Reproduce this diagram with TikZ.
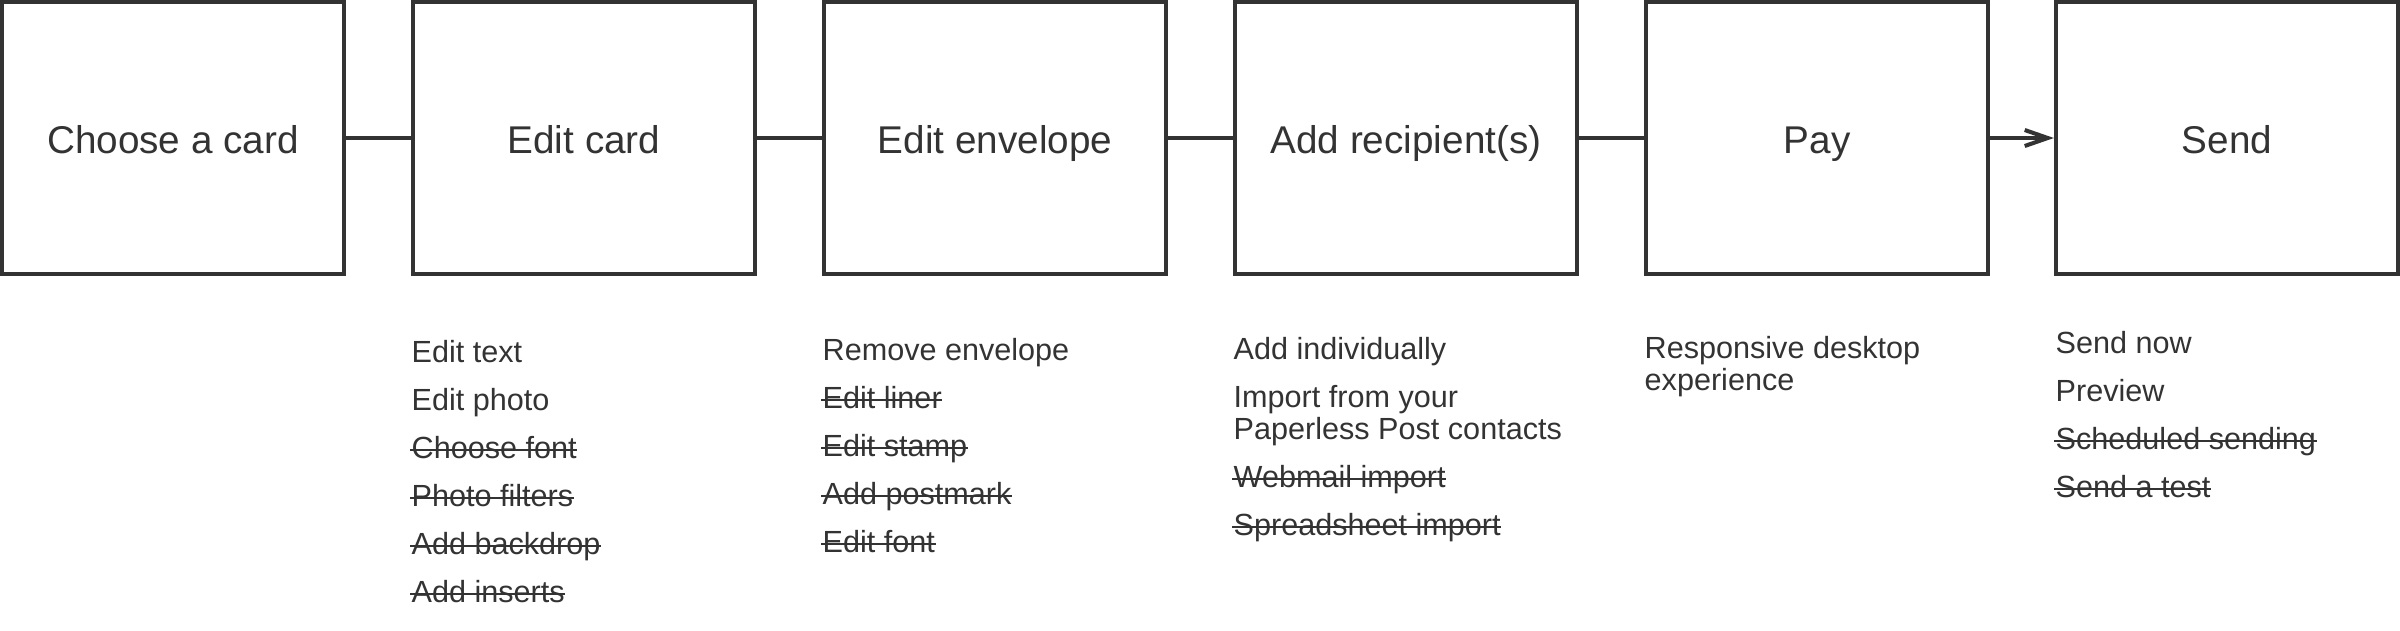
\documentclass[tikz,border=0pt]{standalone}
\usepackage{fontspec}
\setmainfont{Liberation Sans}
\usetikzlibrary{arrows.meta}
\definecolor{ink}{HTML}{333333}

\begin{document}
\begin{tikzpicture}[x=0.01cm,y=-0.01cm,
  stage/.style={draw=ink,line width=1.15pt,minimum width=3.42cm,minimum height=2.72cm,
    inner sep=0pt,text=ink,font=\fontsize{11pt}{13pt}\selectfont,text height=0.30cm,text depth=0cm},
  link/.style={draw=ink,line width=1.15pt},
  item/.style={anchor=base west,inner sep=0pt,text=ink,align=left,
    font=\fontsize{8.7pt}{9.1pt}\selectfont},
  strike/.style={draw=ink,line width=0.65pt},
  gone/.style={item,append after command={([xshift=-0.01cm,yshift=0.08cm]\tikzlastnode.base west)
    edge[strike] ([yshift=0.08cm]\tikzlastnode.base east)}}]

\useasboundingbox (0,0) rectangle (2400,630);

% steps
\node[stage] (choose) at (173,138) {Choose a card};
\node[stage] (edit) at (584,138) {Edit card};
\node[stage] (envelope) at (995,138) {Edit envelope};
\node[stage] (recipients) at (1406,138) {Add recipient(s)};
\node[stage] (pay) at (1817,138) {Pay};
\node[stage] (send) at (2227,138) {Send};

% connectors
\draw[link] (choose) -- (edit);
\draw[link] (edit) -- (envelope);
\draw[link] (envelope) -- (recipients);
\draw[link] (recipients) -- (pay);
\draw[link,-{Straight Barb[length=0.23cm,width=0.16cm]}] (pay) -- (send);

% edit card
\node[item] (edit1) at (411,362) {Edit text};
\node[item] (edit2) at (411,410) {Edit photo};
\node[gone] (edit3) at (411,458) {Choose font};
\node[gone] (edit4) at (411,506) {Photo filters};
\node[gone] (edit5) at (411,554) {Add backdrop};
\node[gone] (edit6) at (411,602) {Add inserts};

% edit envelope
\node[item] (env1) at (822,360) {Remove envelope};
\node[gone] (env2) at (822,408) {Edit liner};
\node[gone] (env3) at (822,456) {Edit stamp};
\node[gone] (env4) at (822,504) {Add postmark};
\node[gone] (env5) at (822,552) {Edit font};

% add recipients (base of a two-line item is its last line)
\node[item] (rec1) at (1233,359) {Add individually};
\node[item] (rec2) at (1233,439) {Import from your\\Paperless Post contacts};
\node[gone] (rec3) at (1233,487) {Webmail import};
\node[gone] (rec4) at (1233,535) {Spreadsheet import};

% pay
\node[item] (pay1) at (1644,390) {Responsive desktop\\experience};

% send
\node[item] (send1) at (2055,353) {Send now};
\node[item] (send2) at (2055,401) {Preview};
\node[gone] (send3) at (2055,449) {Scheduled sending};
\node[gone] (send4) at (2055,497) {Send a test};

\end{tikzpicture}
\end{document}
